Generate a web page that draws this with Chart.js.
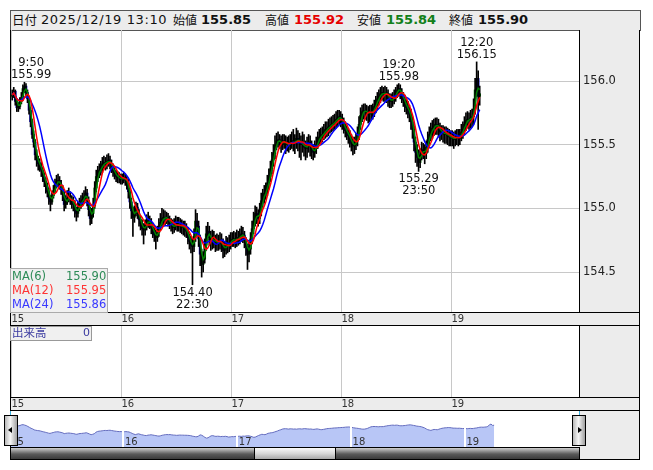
<!DOCTYPE html>
<html><head><meta charset="utf-8">
<script src="https://cdn.jsdelivr.net/npm/chart.js@4.4.1/dist/chart.umd.min.js"></script>
<style>
body{margin:0;background:#fff;}
#root{position:relative;width:653px;height:470px;overflow:hidden;font-family:"DejaVu Sans","Noto Sans CJK JP",sans-serif;color:#111;}
.a{position:absolute;white-space:nowrap;}
.gray{background:#ececec;}
.ln{position:absolute;background:#000;}
.jp{font-family:"Noto Sans CJK JP",sans-serif;}
canvas{position:absolute;}
.ann{position:absolute;font-size:11.5px;line-height:12px;text-align:center;color:#111;white-space:nowrap;}
</style>
</head><body>
<div id="root">
  <!-- header -->
  <div class="a gray" style="left:10px;top:10px;width:629px;height:19px;border:1px solid #555;"></div>
  <div class="a jp" style="left:12px;top:10px;line-height:20px;font-size:12.5px;">日付</div>
  <div class="a" style="left:41px;top:10px;line-height:20px;font-size:13px;letter-spacing:0.6px;">2025/12/19 13:10</div>
  <div class="a jp" style="left:173px;top:10px;line-height:20px;font-size:12px;">始値</div>
  <div class="a" style="left:201px;top:10px;line-height:20px;font-size:13px;font-weight:bold;">155.85</div>
  <div class="a jp" style="left:265px;top:10px;line-height:20px;font-size:12px;">高値</div>
  <div class="a" style="left:294px;top:10px;line-height:20px;font-size:13px;font-weight:bold;color:#e60000;">155.92</div>
  <div class="a jp" style="left:357px;top:10px;line-height:20px;font-size:12px;">安値</div>
  <div class="a" style="left:386px;top:10px;line-height:20px;font-size:13px;font-weight:bold;color:#12801a;">155.84</div>
  <div class="a jp" style="left:449px;top:10px;line-height:20px;font-size:12px;">終値</div>
  <div class="a" style="left:478px;top:10px;line-height:20px;font-size:13px;font-weight:bold;">155.90</div>

  <!-- gray panels -->
  <div class="a gray" style="left:579px;top:30px;width:61px;height:430px;"></div>
  <div class="a gray" style="left:10px;top:312px;width:630px;height:14px;"></div>
  <div class="a gray" style="left:10px;top:397px;width:630px;height:13px;"></div>

  <canvas id="main" width="631" height="296" style="left:10px;top:30px;"></canvas>
  <canvas id="vol" width="631" height="84" style="left:10px;top:326px;"></canvas>
  <canvas id="nav" width="569" height="37" style="left:10px;top:410px;"></canvas>

  <!-- frame lines -->
  <div class="ln" style="left:10px;top:30px;width:1px;height:430px;"></div>
  <div class="ln" style="left:639px;top:30px;width:1px;height:430px;"></div>
  <div class="ln" style="left:579px;top:30px;width:1px;height:282px;"></div>
  <div class="ln" style="left:579px;top:326px;width:1px;height:71px;"></div>
  <div class="ln" style="left:10px;top:312px;width:630px;height:1px;"></div>
  <div class="ln" style="left:10px;top:325px;width:630px;height:1px;"></div>
  <div class="ln" style="left:10px;top:397px;width:630px;height:1px;"></div>
  <div class="ln" style="left:10px;top:410px;width:630px;height:1px;"></div>
  <div class="ln" style="left:10px;top:459px;width:630px;height:1px;"></div>
  <div class="a" style="left:10px;top:411px;width:1px;height:4px;background:#3ab0e0;"></div>
  <div class="a" style="left:579px;top:411px;width:1px;height:4px;background:#3ab0e0;"></div>

  <!-- MA legend -->
  <div class="a" style="left:10px;top:268px;width:96px;height:43px;background:#f0f0f0;border:1px solid #aaa;"></div>
  <div class="a" style="left:12px;top:269px;font-size:11.5px;line-height:14px;color:#2e8b57;">MA(6)</div>
  <div class="a" style="left:66px;top:269px;font-size:11.5px;line-height:14px;color:#2e8b57;">155.90</div>
  <div class="a" style="left:12px;top:283px;font-size:11.5px;line-height:14px;color:#ff3333;">MA(12)</div>
  <div class="a" style="left:66px;top:283px;font-size:11.5px;line-height:14px;color:#ff3333;">155.95</div>
  <div class="a" style="left:12px;top:297px;font-size:11.5px;line-height:14px;color:#3838ff;">MA(24)</div>
  <div class="a" style="left:66px;top:297px;font-size:11.5px;line-height:14px;color:#3838ff;">155.86</div>

  <!-- volume legend -->
  <div class="a" style="left:10px;top:326px;width:80px;height:13px;background:#f0f0f0;border:1px solid #999;"></div>
  <div class="a jp" style="left:12px;top:325px;font-size:11.5px;line-height:15px;color:#3a3aa0;">出来高</div>
  <div class="a" style="left:83px;top:325px;font-size:11px;line-height:15px;color:#3a3aa0;">0</div>

  <!-- scrollbar -->
  <div class="a" style="left:10px;top:447px;width:568px;height:11px;border:1px solid #000;background:linear-gradient(#cfcfcf,#5a5a5a 55%,#3a3a3a);"></div>
  <div class="a" style="left:254px;top:447px;width:80px;height:11px;border:1px solid #000;background:linear-gradient(#fafafa,#d8d8d8 50%,#a8a8a8);"></div>

  <div id="overlay"></div>

  <!-- nav buttons -->
  <div class="a" style="left:4px;top:415px;width:12px;height:29px;border:1px solid #000;background:linear-gradient(to right,#b8b8b8,#f6f6f6 45%,#a0a0a0);z-index:5;">
    <div class="a" style="left:3px;top:11px;width:0;height:0;border-top:3px solid transparent;border-bottom:3px solid transparent;border-right:4px solid #000;"></div>
  </div>
  <div class="a" style="left:572px;top:415px;width:12px;height:29px;border:1px solid #000;background:linear-gradient(to right,#b8b8b8,#f6f6f6 45%,#a0a0a0);z-index:5;">
    <div class="a" style="left:5px;top:11px;width:0;height:0;border-top:3px solid transparent;border-bottom:3px solid transparent;border-left:4px solid #000;"></div>
  </div>
</div>
<script>
// ---- data: 20-minute candles, USD/JPY, from 15th 7:00 to 19th 13:00 ----
const dayLabels = ['15', '16', '17', '18', '19'];
const dayStarts = [0, 72, 144, 216, 288]; // candle index where each day (7:00) begins

const opens = [
155.88,155.89,155.92,155.84,155.79,155.80,155.84,155.87,155.94,155.96,
155.91,155.86,155.77,155.68,155.58,155.52,155.42,155.38,155.35,155.33,
155.30,155.25,155.21,155.17,155.13,155.08,155.05,155.10,155.14,155.19,
155.21,155.22,155.19,155.15,155.11,155.03,155.06,155.08,155.09,155.07,
155.05,155.03,154.98,154.96,155.01,155.04,155.05,155.07,155.09,155.12,
155.06,154.99,154.92,154.96,155.02,155.16,155.25,155.28,155.30,155.32,
155.35,155.36,155.35,155.37,155.38,155.35,155.32,155.29,155.27,155.25,
155.24,155.24,
155.23,155.23,155.24,155.22,155.20,155.13,155.05,154.98,154.93,154.97,
155.01,154.96,154.91,154.88,154.84,154.83,154.87,154.89,154.91,154.88,
154.85,154.82,154.79,154.77,154.81,154.86,154.89,154.92,154.93,154.92,
154.93,154.90,154.88,154.87,154.85,154.86,154.88,154.87,154.87,154.86,
154.86,154.85,154.84,154.82,154.77,154.74,154.71,154.70,154.78,154.90,
154.86,154.76,154.64,154.56,154.60,154.71,154.80,154.82,154.77,154.74,
154.76,154.75,154.72,154.74,154.73,154.75,154.72,154.67,154.69,154.72,
154.71,154.73,
154.75,154.75,154.76,154.74,154.77,154.76,154.78,154.80,154.79,154.75,
154.70,154.64,154.68,154.76,154.84,154.90,154.96,154.94,154.92,154.98,
155.06,155.09,155.12,155.14,155.20,155.25,155.31,155.38,155.43,155.50,
155.53,155.54,155.52,155.50,155.53,155.52,155.50,155.51,155.49,155.52,
155.53,155.51,155.52,155.55,155.53,155.52,155.50,155.51,155.48,155.47,
155.50,155.52,155.49,155.45,155.44,155.47,155.50,155.54,155.56,155.57,
155.58,155.60,155.62,155.62,155.64,155.65,155.66,155.67,155.68,155.70,
155.71,155.72,
155.70,155.67,155.64,155.61,155.59,155.57,155.54,155.51,155.49,155.50,
155.53,155.58,155.66,155.73,155.76,155.77,155.76,155.75,155.74,155.76,
155.75,155.76,155.80,155.83,155.86,155.88,155.90,155.91,155.89,155.91,
155.90,155.86,155.84,155.85,155.86,155.88,155.91,155.93,155.94,155.91,
155.88,155.85,155.81,155.79,155.77,155.74,155.68,155.62,155.52,155.44,
155.40,155.36,155.42,155.46,155.45,155.43,155.48,155.54,155.58,155.61,
155.63,155.64,155.66,155.65,155.63,155.60,155.60,155.59,155.58,155.59,
155.57,155.56,
155.56,155.55,155.54,155.56,155.57,155.55,155.57,155.60,155.62,155.66,
155.69,155.70,155.69,155.71,155.72,155.78,155.93,156.02,155.88
];
const highs = [
155.93,155.95,155.93,155.86,155.83,155.87,155.91,155.97,155.99,155.98,
155.93,155.88,155.79,155.70,155.61,155.54,155.46,155.41,155.39,155.36,
155.32,155.28,155.24,155.20,155.16,155.10,155.13,155.18,155.23,155.26,
155.27,155.25,155.22,155.18,155.13,155.10,155.14,155.16,155.13,155.10,
155.09,155.06,155.01,155.05,155.08,155.10,155.12,155.14,155.17,155.15,
155.09,155.01,155.00,155.08,155.21,155.30,155.33,155.35,155.37,155.40,
155.41,155.40,155.42,155.43,155.41,155.38,155.35,155.32,155.30,155.29,
155.28,155.27,
155.27,155.28,155.27,155.25,155.23,155.16,155.08,155.01,155.02,155.05,
155.04,154.99,154.94,154.91,154.88,154.91,154.95,154.97,154.94,154.92,
154.88,154.85,154.83,154.86,154.92,154.96,155.00,154.99,154.98,154.97,
154.96,154.94,154.92,154.91,154.92,154.94,154.93,154.93,154.92,154.91,
154.90,154.90,154.88,154.85,154.80,154.78,154.76,154.84,154.99,154.96,
154.90,154.79,154.68,154.66,154.76,154.86,154.89,154.86,154.82,154.83,
154.82,154.79,154.80,154.79,154.81,154.80,154.76,154.74,154.78,154.77,
154.79,154.81,
154.81,154.82,154.81,154.83,154.82,154.84,154.86,154.85,154.82,154.77,
154.72,154.73,154.81,154.90,154.97,155.02,155.01,154.99,155.04,155.12,
155.15,155.18,155.20,155.26,155.31,155.37,155.44,155.50,155.57,155.59,
155.60,155.58,155.57,155.58,155.58,155.57,155.56,155.57,155.58,155.60,
155.62,155.58,155.63,155.61,155.59,155.57,155.60,155.58,155.53,155.56,
155.58,155.57,155.53,155.50,155.53,155.56,155.60,155.62,155.63,155.64,
155.66,155.68,155.68,155.70,155.71,155.72,155.73,155.74,155.76,155.77,
155.77,155.76,
155.74,155.71,155.68,155.65,155.63,155.61,155.58,155.56,155.56,155.59,
155.64,155.72,155.79,155.81,155.82,155.82,155.81,155.80,155.81,155.81,
155.82,155.85,155.88,155.91,155.93,155.95,155.96,155.95,155.96,155.95,
155.93,155.90,155.90,155.91,155.93,155.95,155.97,155.98,155.97,155.94,
155.91,155.89,155.86,155.84,155.81,155.78,155.72,155.65,155.56,155.50,
155.46,155.47,155.52,155.51,155.50,155.53,155.60,155.64,155.67,155.69,
155.70,155.71,155.71,155.70,155.67,155.65,155.65,155.64,155.64,155.63,
155.62,155.61,
155.61,155.60,155.61,155.62,155.62,155.62,155.66,155.68,155.72,155.75,
155.76,155.75,155.77,155.78,155.86,156.02,156.15,156.08,155.96
];
const lows = [
155.85,155.87,155.81,155.76,155.76,155.78,155.82,155.85,155.91,155.88,
155.83,155.74,155.64,155.55,155.48,155.38,155.33,155.30,155.29,155.25,
155.21,155.17,155.12,155.09,155.03,154.98,155.03,155.08,155.12,155.16,
155.17,155.15,155.11,155.06,154.98,155.00,155.03,155.05,155.03,155.00,
154.98,154.93,154.90,154.93,154.98,155.00,155.02,155.04,155.06,155.02,
154.94,154.87,154.88,154.93,155.00,155.13,155.21,155.24,155.26,155.28,
155.31,155.30,155.31,155.33,155.31,155.28,155.25,155.23,155.21,155.20,
155.20,155.19,
155.19,155.20,155.18,155.15,155.08,155.00,154.92,154.78,154.89,154.94,
154.92,154.86,154.83,154.79,154.72,154.79,154.83,154.85,154.84,154.80,
154.77,154.74,154.68,154.74,154.78,154.83,154.86,154.87,154.87,154.88,
154.86,154.84,154.82,154.80,154.81,154.83,154.82,154.82,154.81,154.80,
154.79,154.78,154.77,154.72,154.68,154.65,154.40,154.66,154.74,154.80,
154.70,154.55,154.46,154.50,154.57,154.67,154.75,154.71,154.67,154.68,
154.69,154.66,154.67,154.67,154.68,154.66,154.61,154.62,154.64,154.65,
154.66,154.68,
154.70,154.70,154.69,154.70,154.71,154.72,154.74,154.73,154.69,154.63,
154.52,154.58,154.64,154.72,154.80,154.86,154.88,154.86,154.88,154.94,
155.01,155.04,155.07,155.10,155.15,155.21,155.27,155.33,155.39,155.46,
155.48,155.47,155.44,155.46,155.47,155.43,155.45,155.44,155.46,155.47,
155.45,155.43,155.47,155.45,155.40,155.38,155.44,155.41,155.38,155.40,
155.44,155.41,155.39,155.38,155.40,155.43,155.47,155.50,155.51,155.52,
155.54,155.55,155.56,155.57,155.59,155.60,155.61,155.62,155.63,155.65,
155.66,155.64,
155.62,155.59,155.56,155.54,155.51,155.48,155.45,155.42,155.43,155.46,
155.49,155.54,155.62,155.68,155.70,155.70,155.69,155.67,155.68,155.69,
155.70,155.72,155.75,155.78,155.81,155.83,155.85,155.84,155.84,155.83,
155.80,155.79,155.79,155.80,155.82,155.84,155.87,155.88,155.86,155.83,
155.80,155.76,155.74,155.71,155.68,155.62,155.55,155.45,155.36,155.33,
155.29,155.32,155.38,155.39,155.35,155.39,155.44,155.49,155.53,155.55,
155.57,155.58,155.58,155.56,155.53,155.54,155.52,155.51,155.51,155.50,
155.49,155.49,
155.49,155.47,155.49,155.50,155.49,155.50,155.53,155.55,155.58,155.61,
155.63,155.62,155.63,155.64,155.66,155.74,155.88,155.62,155.81
];
const closes = [
155.89,155.92,155.84,155.79,155.80,155.84,155.87,155.94,155.96,155.91,
155.86,155.77,155.68,155.58,155.52,155.42,155.38,155.35,155.33,155.30,
155.25,155.21,155.17,155.13,155.08,155.05,155.10,155.14,155.19,155.21,
155.22,155.19,155.15,155.11,155.03,155.06,155.08,155.09,155.07,155.05,
155.03,154.98,154.96,155.01,155.04,155.05,155.07,155.09,155.12,155.06,
154.99,154.92,154.96,155.02,155.16,155.25,155.28,155.30,155.32,155.35,
155.36,155.35,155.37,155.38,155.35,155.32,155.29,155.27,155.25,155.24,
155.24,155.23,
155.23,155.24,155.22,155.20,155.13,155.05,154.98,154.93,154.97,155.01,
154.96,154.91,154.88,154.84,154.83,154.87,154.89,154.91,154.88,154.85,
154.82,154.79,154.77,154.81,154.86,154.89,154.92,154.93,154.92,154.93,
154.90,154.88,154.87,154.85,154.86,154.88,154.87,154.87,154.86,154.86,
154.85,154.84,154.82,154.77,154.74,154.71,154.70,154.78,154.90,154.86,
154.76,154.64,154.56,154.60,154.71,154.80,154.82,154.77,154.74,154.76,
154.75,154.72,154.74,154.73,154.75,154.72,154.67,154.69,154.72,154.71,
154.73,154.75,
154.75,154.76,154.74,154.77,154.76,154.78,154.80,154.79,154.75,154.70,
154.64,154.68,154.76,154.84,154.90,154.96,154.94,154.92,154.98,155.06,
155.09,155.12,155.14,155.20,155.25,155.31,155.38,155.43,155.50,155.53,
155.54,155.52,155.50,155.53,155.52,155.50,155.51,155.49,155.52,155.53,
155.51,155.52,155.55,155.53,155.52,155.50,155.51,155.48,155.47,155.50,
155.52,155.49,155.45,155.44,155.47,155.50,155.54,155.56,155.57,155.58,
155.60,155.62,155.62,155.64,155.65,155.66,155.67,155.68,155.70,155.71,
155.72,155.70,
155.67,155.64,155.61,155.59,155.57,155.54,155.51,155.49,155.50,155.53,
155.58,155.66,155.73,155.76,155.77,155.76,155.75,155.74,155.76,155.75,
155.76,155.80,155.83,155.86,155.88,155.90,155.91,155.89,155.91,155.90,
155.86,155.84,155.85,155.86,155.88,155.91,155.93,155.94,155.91,155.88,
155.85,155.81,155.79,155.77,155.74,155.68,155.62,155.52,155.44,155.40,
155.36,155.42,155.46,155.45,155.43,155.48,155.54,155.58,155.61,155.63,
155.64,155.66,155.65,155.63,155.60,155.60,155.59,155.58,155.59,155.57,
155.56,155.56,
155.55,155.54,155.56,155.57,155.55,155.57,155.60,155.62,155.66,155.69,
155.70,155.69,155.71,155.72,155.78,155.93,156.02,155.88,155.90
];
const yTicks = [154.5, 155.0, 155.5, 156.0];
const maLabels = ['MA(6)', 'MA(12)', 'MA(24)'];
const maWindows = [3, 6, 12]; // same time span as 6/12/24 ten-minute bars
// labelled extremes: [candle index, price text, time text, above?]
const notes = [
  [8, '155.99', '9:50', true],
  [118, '154.40', '22:30', false],
  [253, '155.98', '19:20', true],
  [266, '155.29', '23:50', false],
  [304, '156.15', '12:20', true]
];

// ---- chart ----
Chart.defaults.font.family = '"DejaVu Sans","Noto Sans CJK JP",sans-serif';
Chart.defaults.animation = false;
Chart.defaults.responsive = false;
Chart.defaults.events = [];

const xMin = -0.3, xMax = 371.5;
const yMin = 154.186, yMax = 156.4005;

function sma(a, n) {
  return a.map((_, i) => {
    const s = Math.max(0, i - n + 1);
    let t = 0;
    for (let k = s; k <= i; k++) t += a[k];
    return t / (i - s + 1);
  });
}
const pts = arr => arr.map((y, i) => ({x: i + 0.5, y}));
const maSeries = maWindows.map(n => sma(closes, n));

const bodyColors = opens.map((o, i) => closes[i] >= o ? '#006a00' : '#0000b4');

function noPad(s) { s.paddingTop = 0; s.paddingBottom = 0; s.paddingLeft = 0; s.paddingRight = 0; }

const xScaleBase = (h) => ({
  type: 'linear', min: xMin, max: xMax, offset: false,
  afterFit: s => { s.height = h; noPad(s); },
  afterBuildTicks: s => { s.ticks = dayStarts.map(v => ({value: v})); },
  ticks: {autoSkip: false, maxRotation: 0, minRotation: 0, align: 'start', padding: 1, color: '#333', font: {size: 10},
          callback: v => dayLabels[dayStarts.indexOf(v)]},
  grid: {color: '#c8c8c8', drawTicks: false, offset: false, lineWidth: 1},
  border: {display: false}
});

const main = new Chart(document.getElementById('main'), {
  type: 'bar',
  data: {datasets: [
    {type: 'line', label: maLabels[1], data: pts(maSeries[1]), borderColor: '#ff0000', borderWidth: 1.5, pointRadius: 0, order: 0},
    {type: 'line', label: maLabels[2], data: pts(maSeries[2]), borderColor: '#0000ff', borderWidth: 1.5, pointRadius: 0, order: 1},
    {type: 'line', label: maLabels[0], data: pts(maSeries[0]), borderColor: '#008000', borderWidth: 1.5, pointRadius: 0, order: 2},
    {type: 'bar', label: 'wick', data: lows.map((l, i) => ({x: i + 0.5, y: [l, highs[i]]})),
     backgroundColor: '#000', barThickness: 1, grouped: false, order: 3},
    {type: 'bar', label: 'body', data: opens.map((o, i) => ({x: i + 0.5, y: [Math.min(o, closes[i]), Math.max(o, closes[i])]})),
     backgroundColor: bodyColors, barThickness: 2, grouped: false, minBarLength: 1, order: 4}
  ]},
  options: {
    layout: {padding: {left: 1, right: 0, top: 0, bottom: 0}},
    plugins: {legend: {display: false}, tooltip: {enabled: false}},
    scales: {
      x: xScaleBase(14),
      y: {position: 'right', min: yMin, max: yMax,
          afterFit: s => { s.width = 62; noPad(s); },
          afterBuildTicks: s => { s.ticks = yTicks.map(v => ({value: v})); },
          ticks: {padding: 4, color: '#222', font: {size: 11.5}, callback: v => v.toFixed(1)},
          grid: {color: '#c8c8c8', drawTicks: false},
          border: {display: false}}
    }
  }
});

new Chart(document.getElementById('vol'), {
  type: 'bar',
  data: {datasets: []},
  options: {
    layout: {padding: {left: 1, right: 0, top: 0, bottom: 0}},
    plugins: {legend: {display: false}, tooltip: {enabled: false}},
    scales: {
      x: xScaleBase(13),
      y: {position: 'right', min: 0, max: 1, afterFit: s => { s.width = 62; noPad(s); },
          ticks: {display: false}, grid: {display: false}, border: {display: false}}
    }
  }
});

const navGap = {
  id: 'navGap',
  afterDatasetsDraw(chart) {
    const {ctx, chartArea, scales} = chart;
    ctx.save();
    ctx.fillStyle = '#fff';
    dayStarts.slice(1).forEach(v => {
      const px = Math.round(scales.x.getPixelForValue(v));
      ctx.fillRect(px - 1, chartArea.top, 2, chartArea.bottom - chartArea.top);
    });
    ctx.restore();
  }
};
const navChart = new Chart(document.getElementById('nav'), {
  type: 'line',
  data: {datasets: [{data: pts(closes), fill: 'start', backgroundColor: 'rgb(184,198,246)',
    borderColor: 'rgb(100,108,190)', borderWidth: 1, pointRadius: 0, tension: 0}]},
  options: {
    layout: {padding: 0},
    plugins: {legend: {display: false}, tooltip: {enabled: false}},
    scales: {x: {type: 'linear', display: false, min: 0.19, max: 360.2},
             y: {display: false, min: 153.64, max: 157.48}}
  },
  plugins: [navGap]
});

// ---- overlays positioned from the chart scales ----
const overlay = document.getElementById('overlay');
const mx = main.scales.x, my = main.scales.y;
notes.forEach(([i, price, time, above]) => {
  const d = document.createElement('div');
  d.className = 'ann';
  d.innerHTML = above ? (time + '<br>' + price) : (price + '<br>' + time);
  overlay.appendChild(d);
  const w = d.offsetWidth;
  let cx = 10 + mx.getPixelForValue(i + 0.5);
  let left = Math.max(11, cx - w / 2);
  const py = 30 + my.getPixelForValue(parseFloat(price));
  d.style.left = left + 'px';
  d.style.top = (above ? py - 26 : py + 1) + 'px';
});
const nx = navChart.scales.x;
dayStarts.forEach((v, k) => {
  const d = document.createElement('div');
  d.className = 'a';
  d.style.cssText = 'font-size:10px;line-height:11px;color:#333;top:436px;left:' + (10 + nx.getPixelForValue(v) + 1.5) + 'px';
  d.textContent = dayLabels[k];
  overlay.appendChild(d);
});
</script>
</body></html>
